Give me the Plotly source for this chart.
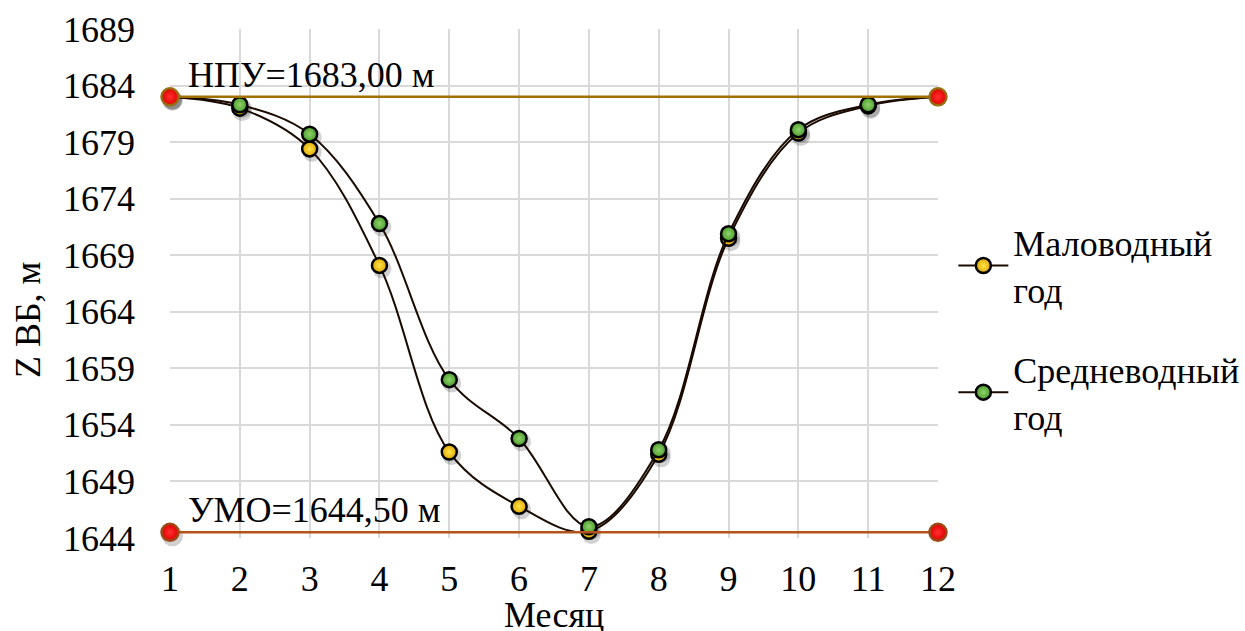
import plotly.graph_objects as go

# Месяцы и отметки верхнего бьефа
months = [1, 2, 3, 4, 5, 6, 7, 8, 9, 10, 11, 12]
low_water = [1683.0, 1682.0, 1678.4, 1668.1, 1651.6, 1646.8, 1644.6, 1651.4, 1670.5, 1679.8, 1682.2, 1683.0]
mid_water = [1683.0, 1682.3, 1679.7, 1671.8, 1658.0, 1652.8, 1645.0, 1651.8, 1670.9, 1680.1, 1682.3, 1683.0]

npu_x = [1, 12]
npu_y = [1683.0, 1683.0]
umo_x = [1, 12]
umo_y = [1644.5, 1644.5]

y_ticks = [1644, 1649, 1654, 1659, 1664, 1669, 1674, 1679, 1684, 1689]

FONT = "Liberation Serif"
FS = 36

fig = go.Figure()


def add_shadow(xs, ys, size):
    # мягкая тень под маркерами (смещение вправо-вниз)
    fig.add_trace(go.Scatter(
        x=[v + 0.035 for v in xs], y=[v - 0.3 for v in ys], mode="markers",
        showlegend=False, hoverinfo="skip", cliponaxis=False,
        marker=dict(size=size, color="rgba(0,0,0,0.18)", line=dict(width=0))))


add_shadow(months, low_water, 19)
add_shadow(months, mid_water, 19)

fig.add_trace(go.Scatter(
    x=months, y=low_water, name="Маловодный<br>год", mode="lines+markers",
    legendgroup="low",
    line=dict(color="#1A0A00", width=2, shape="spline", smoothing=1.0),
    marker=dict(size=15, color="#E0A800", gradient=dict(type="radial", color="#FFE34A"),
                line=dict(color="black", width=2.5)),
    cliponaxis=False))
fig.add_trace(go.Scatter(
    x=months, y=mid_water, name="Средневодный<br>год", mode="lines+markers",
    legendgroup="mid",
    line=dict(color="#1A0A00", width=2, shape="spline", smoothing=1.0),
    marker=dict(size=15, color="#4A9A2C", gradient=dict(type="radial", color="#8FD36A"),
                line=dict(color="black", width=2.5)),
    cliponaxis=False))

# Линии НПУ и УМО поверх кривых
add_shadow(npu_x, npu_y, 21)
add_shadow(umo_x, umo_y, 21)
fig.add_trace(go.Scatter(
    x=npu_x, y=npu_y, mode="lines+markers", showlegend=False,
    line=dict(color="#A07000", width=2.5),
    marker=dict(size=17, color="#E00000", gradient=dict(type="radial", color="#FF3030"),
                line=dict(color="#9A6A10", width=2.5)),
    cliponaxis=False, hoverinfo="skip"))
fig.add_trace(go.Scatter(
    x=umo_x, y=umo_y, mode="lines+markers", showlegend=False,
    line=dict(color="#B5541A", width=2.5),
    marker=dict(size=17, color="#E00000", gradient=dict(type="radial", color="#FF3030"),
                line=dict(color="#9A4A18", width=2.5)),
    cliponaxis=False, hoverinfo="skip"))

fig.add_annotation(x=1, y=1683.0, xref="x", yref="y", text="НПУ=1683,00 м",
                   showarrow=False, xanchor="left", yanchor="middle", xshift=16, yshift=22,
                   font=dict(family=FONT, size=FS, color="black"))
fig.add_annotation(x=1, y=1644.5, xref="x", yref="y", text="УМО=1644,50 м",
                   showarrow=False, xanchor="left", yanchor="middle", xshift=16, yshift=22,
                   font=dict(family=FONT, size=FS, color="black"))

# Подписи осей
fig.add_annotation(x=0.5, y=-0.152, xref="paper", yref="paper", text="Месяц",
                   showarrow=False, xanchor="center", yanchor="middle",
                   font=dict(family=FONT, size=FS, color="black"))
fig.add_annotation(x=-0.185, y=0.428, xref="paper", yref="paper", text="Z ВБ, м",
                   showarrow=False, xanchor="center", yanchor="middle", textangle=-90,
                   font=dict(family=FONT, size=FS, color="black"))

fig.update_layout(
    width=1245, height=631,
    margin=dict(l=170, r=307, t=29, b=93, autoexpand=False),
    paper_bgcolor="white", plot_bgcolor="white",
    font=dict(family=FONT, size=FS, color="black"),
    xaxis=dict(range=[1, 12], tickvals=months, showgrid=True, gridcolor="#D9D9D9",
               gridwidth=2, zeroline=False, showline=False, ticks="",
               tickfont=dict(family=FONT, size=FS), ticklabelstandoff=16),
    yaxis=dict(range=[1644, 1689], tickvals=y_ticks, showgrid=True, gridcolor="#D9D9D9",
               gridwidth=2, zeroline=False, showline=False, ticks="",
               tickfont=dict(family=FONT, size=FS), ticklabelstandoff=34),
    legend=dict(x=1.02, y=0.64, xanchor="left", yanchor="top",
                font=dict(family=FONT, size=FS), traceorder="grouped",
                tracegroupgap=30, itemwidth=50,
                bgcolor="rgba(0,0,0,0)"),
)

fig.write_html("out.html")
